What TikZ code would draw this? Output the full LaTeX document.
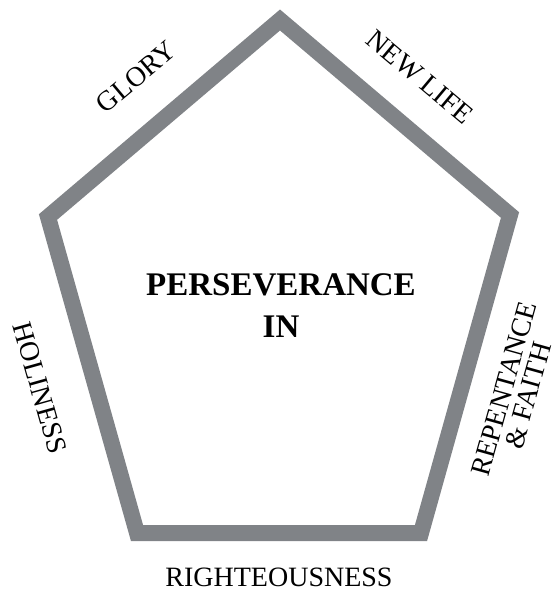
\documentclass[tikz,border=0pt]{standalone}
\usepackage{fontspec}
\setmainfont{Liberation Serif}
\definecolor{penta}{RGB}{128,131,135}
\begin{document}
\begin{tikzpicture}[x=1pt,y=-1pt,
  edge/.style={draw=penta,line width=16pt,line join=miter},
  lbl/.style={font=\fontsize{28}{29}\selectfont,inner sep=0pt,align=center},
  title/.style={font=\fontsize{33}{42}\selectfont\bfseries,inner sep=0pt,align=center}]
\useasboundingbox (0,0) rectangle (557,608);
\coordinate (t) at (280,20);
\coordinate (ur) at (510,215);
\coordinate (lr) at (421,533);
\coordinate (ll) at (137,533);
\coordinate (ul) at (48,217);
\draw[edge] (t) -- (ur) -- (lr) -- (ll) -- (ul) -- cycle;
\node[title] (main) at (281,306) {PERSEVERANCE\\IN};
\node[lbl,rotate=40] (glory) at (136,77) {GLORY};
\node[lbl,rotate=-40] (newlife) at (420,77) {NEW LIFE};
\node[lbl,rotate=74.4,font=\fontsize{28}{25}\selectfont] (rep) at (516,392) {REPENTANCE\\\& FAITH};
\node[lbl] (right) at (279,577) {RIGHTEOUSNESS};
\node[lbl,rotate=-74.3] (hol) at (40,388) {HOLINESS};
\end{tikzpicture}
\end{document}
